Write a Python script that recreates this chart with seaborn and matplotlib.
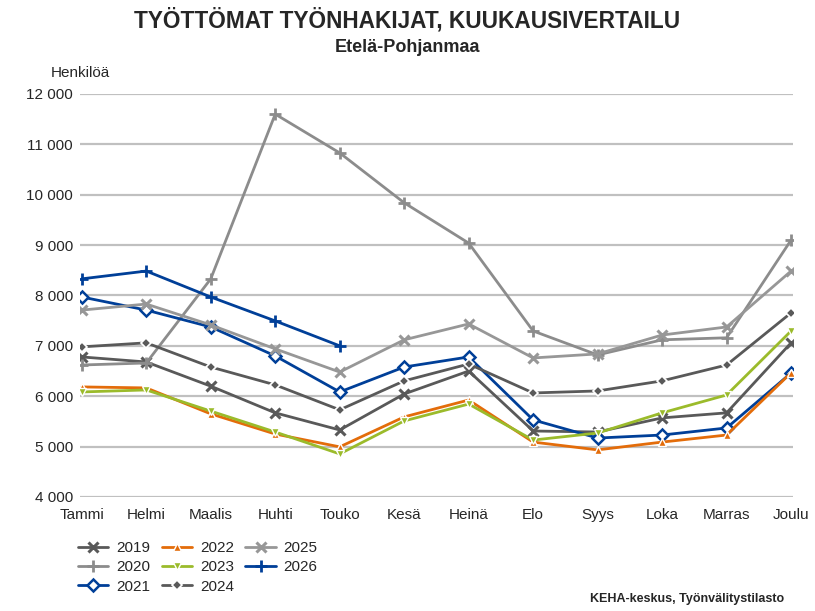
import matplotlib
matplotlib.use("Agg")
import matplotlib.pyplot as plt
import seaborn as sns
import pandas as pd

months = ["Tammi", "Helmi", "Maalis", "Huhti", "Touko", "Kesä",
          "Heinä", "Elo", "Syys", "Loka", "Marras", "Joulu"]

v2019 = [6780, 6680, 6200, 5670, 5330, 6045, 6500, 5310, 5290, 5570, 5670, 7060]
v2020 = [6620, 6660, 8330, 11600, 10830, 9840, 9040, 7295, 6820, 7120, 7160, 9100]
v2021 = [7970, 7710, 7375, 6800, 6085, 6580, 6780, 5530, 5170, 5230, 5370, 6460]
v2022 = [6185, 6165, 5650, 5250, 4995, 5590, 5925, 5090, 4935, 5090, 5230, 6465]
v2023 = [6085, 6125, 5705, 5290, 4855, 5510, 5845, 5130, 5270, 5670, 6025, 7295]
v2024 = [6980, 7060, 6580, 6225, 5730, 6305, 6640, 6065, 6105, 6305, 6620, 7655]
v2025 = [7710, 7830, 7415, 6940, 6480, 7120, 7435, 6760, 6840, 7215, 7375, 8485]
v2026 = [8330, 8485, 7970, 7495, 7000]

series = {
    "2019": v2019, "2020": v2020, "2021": v2021, "2022": v2022,
    "2023": v2023, "2024": v2024, "2025": v2025, "2026": v2026,
}

rows = []
for year, vals in series.items():
    for i, v in enumerate(vals):
        rows.append({"year": year, "month": i, "value": v})
df = pd.DataFrame(rows)

styles = {
    "2019": dict(color="#595959", marker="x", ms=7, mew=2.2, mfc="#595959", mec="#595959"),
    "2020": dict(color="#8c8c8c", marker="+", ms=9, mew=2.0, mfc="#8c8c8c", mec="#8c8c8c"),
    "2021": dict(color="#003f98", marker="D", ms=6, mew=1.8, mfc="white", mec="#003f98"),
    "2022": dict(color="#e36c0a", marker="^", ms=6, mew=1.0, mfc="#e36c0a", mec="white"),
    "2023": dict(color="#9bbb2b", marker="v", ms=6, mew=1.0, mfc="#9bbb2b", mec="white"),
    "2024": dict(color="#595959", marker="D", ms=5, mew=1.2, mfc="#595959", mec="white"),
    "2025": dict(color="#979797", marker="x", ms=7, mew=2.2, mfc="#979797", mec="#979797"),
    "2026": dict(color="#003f98", marker="+", ms=9, mew=2.0, mfc="#003f98", mec="#003f98"),
}

sns.set_style("white")
plt.rcParams["font.family"] = ["Liberation Sans", "DejaVu Sans"]

fig = plt.figure(figsize=(8.15, 6.11), dpi=100)
ax = fig.add_axes([0.098, 0.1866, 0.875, 0.6596])

for year in series:
    st = styles[year]
    sub = df[df["year"] == year]
    sns.lineplot(data=sub, x="month", y="value", ax=ax, color=st["color"],
                 linewidth=2.0, marker=st["marker"], markersize=st["ms"],
                 markeredgewidth=st["mew"], markerfacecolor=st["mfc"],
                 markeredgecolor=st["mec"], label=year, zorder=3)

ax.set_ylim(4000, 12000)
ax.set_xlim(-0.03, 11.03)
yt = list(range(4000, 12001, 1000))
ax.set_yticks(yt)
ax.set_yticklabels([f"{v:,}".replace(",", " ") for v in yt], fontsize=11)
ax.set_xticks(range(12))
ax.set_xticklabels(months, fontsize=11)
ax.tick_params(axis="x", length=0, pad=8)
ax.tick_params(axis="y", length=0, pad=5)
ax.yaxis.grid(True, color="#c0c0c0", linewidth=1.6, zorder=0)
ax.xaxis.grid(False)
for s in ax.spines.values():
    s.set_visible(False)
ax.set_xlabel("")
ax.set_ylabel("")

handles, labels = ax.get_legend_handles_labels()
ax.legend(handles, labels, ncol=3, loc="upper left", bbox_to_anchor=(-0.022, -0.075),
          frameon=False, fontsize=11, handlelength=2.0, columnspacing=0.75,
          labelspacing=0.35, handletextpad=0.5)

fig.text(0.5, 0.967, "TYÖTTÖMAT TYÖNHAKIJAT, KUUKAUSIVERTAILU", ha="center", va="center",
         fontsize=16.3, fontweight="bold")
fig.text(0.5, 0.923, "Etelä-Pohjanmaa", ha="center", va="center",
         fontsize=13, fontweight="bold")
fig.text(0.062, 0.88, "Henkilöä", ha="left", va="center", fontsize=11)
fig.text(0.962, 0.02, "KEHA-keskus, Työnvälitystilasto", ha="right", va="center",
         fontsize=9, fontweight="bold")

fig.savefig("out.png", dpi=100)
